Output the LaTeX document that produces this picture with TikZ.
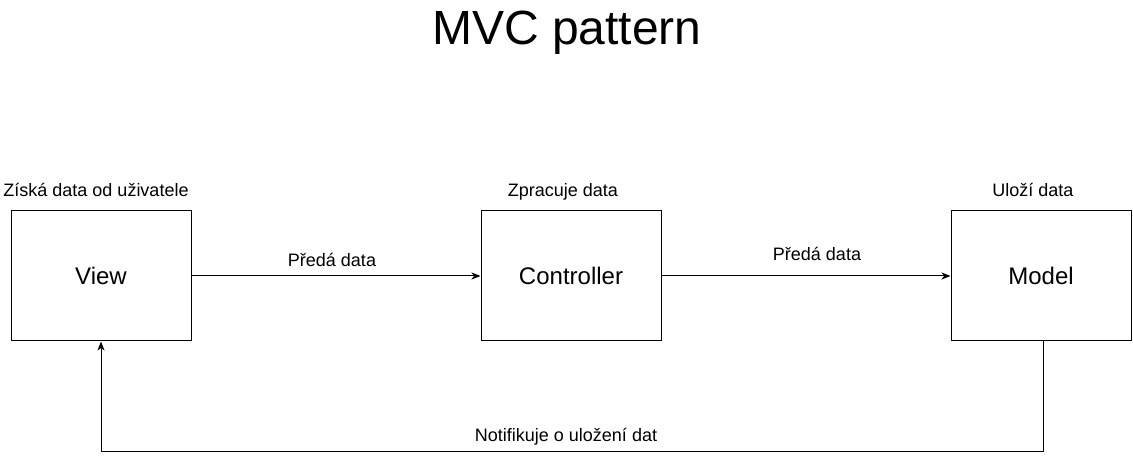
\documentclass[tikz,border=0pt]{standalone}
\usepackage{fontspec}
\setmainfont{Liberation Sans}
\usetikzlibrary{arrows.meta,positioning}
\tikzset{
	>={Stealth[length=9pt, width=7pt, inset=2.5pt]},
	part/.style={
		rectangle,
		draw=black, line width=1pt,
		minimum width=180pt,
		minimum height=130pt,
		font=\fontsize{24}{29}\selectfont,
		text centered},
	tag/.style={inner sep=0pt, text depth=0pt, font=\fontsize{18}{22}\selectfont},
	flow/.style={draw, line width=1pt, ->},
}
\begin{document}
\begin{tikzpicture}
[x=1pt, y=1pt,
node distance=289pt,]
\useasboundingbox (0,0) rectangle (1133,461);
\node[font=\fontsize{48}{58}\selectfont] (title) at (567,428) {MVC pattern};

\node[part] (view) at (101,185) {View};
\node[part, right=of view] (controller) {Controller};
\node[part, right=of controller] (model) {Model};

% popisky nad bloky
\node[tag, above=14pt of view, xshift=-5pt] (viewtag) {Získá data od uživatele};
\node[tag, above=14pt of controller, xshift=-8pt] (controllertag) {Zpracuje data};
\node[tag, above=14pt of model, xshift=-8pt] (modeltag) {Uloží data};

\draw[flow] (view) -- node[tag, midway, above=9pt, xshift=-4pt] {Předá data} (controller);
\draw[flow] (controller) -- node[tag, midway, above=15pt, xshift=11pt] {Předá data} (model);
\draw[flow] ([xshift=2pt]model.south) -- ++(0,-110) -| node[tag, pos=0.25, above=10pt, xshift=-6pt] {Notifikuje o uložení dat} (view.south);

\end{tikzpicture}
\end{document}
